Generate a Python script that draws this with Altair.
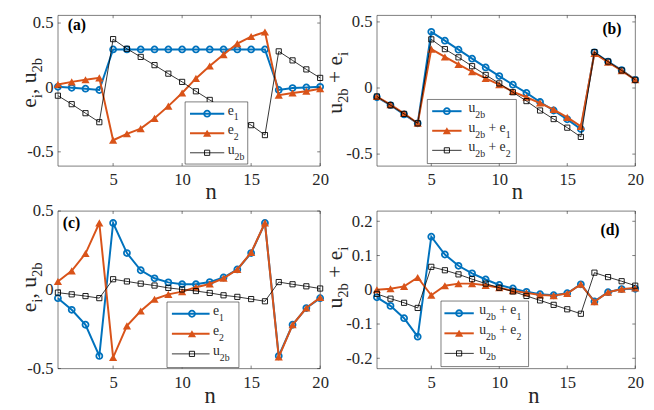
import altair as alt
import pandas as pd

# ---------------- data ----------------
N = list(range(1, 21))

A_E1 = [0.005, -0.003, -0.01, -0.02, 0.295, 0.295, 0.295, 0.295, 0.295, 0.295,
        0.295, 0.295, 0.295, 0.295, 0.295, 0.295, -0.02, -0.005, 0.0, 0.005]
A_E2 = [0.023, 0.043, 0.06, 0.074, -0.41, -0.36, -0.32, -0.24, -0.145, -0.043,
        0.07, 0.166, 0.255, 0.34, 0.395, 0.43, -0.06, -0.043, -0.03, -0.01]
A_U2B = [-0.064, -0.13, -0.2, -0.27, 0.375, 0.30, 0.237, 0.173, 0.107, 0.043,
         -0.03, -0.097, -0.163, -0.23, -0.293, -0.37, 0.28, 0.21, 0.14, 0.074]

B_U2B = [-0.07, -0.13, -0.2, -0.267, 0.425, 0.358, 0.29, 0.222, 0.156, 0.09,
         0.025, -0.037, -0.106, -0.17, -0.237, -0.31, 0.27, 0.2, 0.136, 0.062]
B_U2B_E1 = [-0.064, -0.126, -0.193, -0.267, 0.294, 0.235, 0.178, 0.123, 0.072, 0.025,
            -0.027, -0.07, -0.114, -0.163, -0.222, -0.29, 0.262, 0.195, 0.131, 0.062]
B_U2B_E2 = [-0.064, -0.13, -0.196, -0.267, 0.368, 0.294, 0.232, 0.165, 0.099, 0.035,
            -0.032, -0.099, -0.17, -0.235, -0.3, -0.37, 0.272, 0.2, 0.133, 0.062]

C_E1 = [-0.053, -0.127, -0.222, -0.42, 0.424, 0.233, 0.124, 0.073, 0.047, 0.035,
        0.035, 0.049, 0.078, 0.129, 0.233, 0.424, -0.42, -0.222, -0.116, -0.053]
C_E2 = [0.053, 0.12, 0.23, 0.424, -0.43, -0.229, -0.135, -0.06, -0.029, -0.012,
        0.016, 0.037, 0.073, 0.129, 0.237, 0.424, -0.427, -0.222, -0.116, -0.049]
C_U2B = [-0.018, -0.029, -0.04, -0.053, 0.067, 0.053, 0.039, 0.027, 0.012, 0.002,
         -0.008, -0.02, -0.035, -0.045, -0.059, -0.073, 0.049, 0.035, 0.022, 0.008]

D_U2B_E1 = [-0.022, -0.047, -0.083, -0.137, 0.155, 0.103, 0.07, 0.048, 0.03, 0.014,
            0.004, -0.006, -0.013, -0.016, -0.01, 0.016, -0.034, -0.007, 0.002, 0.003]
D_U2B_E2 = [0.0, 0.003, 0.01, 0.036, -0.016, 0.012, 0.018, 0.018, 0.013, 0.006,
            -0.003, -0.009, -0.015, -0.017, -0.011, 0.016, -0.035, -0.007, 0.002, 0.005]
D_U2B = [-0.012, -0.026, -0.038, -0.053, 0.067, 0.057, 0.045, 0.031, 0.018, 0.006,
         -0.005, -0.018, -0.031, -0.044, -0.057, -0.07, 0.05, 0.037, 0.025, 0.012]

X_TICKS = [5, 10, 15, 20]
Y_TICKS_ABC = [-0.5, 0, 0.5]
Y_TICKS_D = [-0.2, -0.1, 0, 0.1, 0.2]

# labels as (text, is_subscript) runs
LBL_E1 = [("e", 0), ("1", 1)]
LBL_E2 = [("e", 0), ("2", 1)]
LBL_U2B = [("u", 0), ("2b", 1)]
LBL_U2B_E1 = [("u", 0), ("2b", 1), (" + e", 0), ("1", 1)]
LBL_U2B_E2 = [("u", 0), ("2b", 1), (" + e", 0), ("2", 1)]
TITLE_A = [("e", 0), ("i", 1), (", u", 0), ("2b", 1)]
TITLE_B = [("u", 0), ("2b", 1), (" + e", 0), ("i", 1)]

# ---------------- styles ----------------
FONT = "Liberation Serif, Tinos, Times New Roman, Times, Nimbus Roman, DejaVu Serif, serif"
TXT = "#262626"
AX = "#262626"
BLUE = "#0072BD"
ORANGE = "#D95319"
STYLE = {
    "blue": dict(color=BLUE, lw=2.0, shape="circle", filled=False, size=38, sw=1.8),
    "orange": dict(color=ORANGE, lw=2.0, shape="triangle-up", filled=True, size=70, sw=1.0),
    "black": dict(color="#000000", lw=0.8, shape="square", filled=False, size=28, sw=0.9),
}
EM = {"e": 0.444, "i": 0.278, ",": 0.25, " ": 0.25, "u": 0.5, "2": 0.5, "b": 0.5,
      "+": 0.564, "1": 0.5}
H_TOP = 154
H_BOT = 161
TICK = 3
YT_MAIN, YT_SUB, YT_SHIFT = 22, 15, 6
ANCHOR_X = -50    # invisible left anchor so the layout does not depend on text estimates


def text_runs(segs, main, sub):
    out, cur = [], 0.0
    for txt, is_sub in segs:
        size = sub if is_sub else main
        lead = len(txt) - len(txt.lstrip(" "))
        cur += lead * EM[" "] * size
        core = txt.strip(" ")
        out.append((core, cur, is_sub, size))
        cur += sum(EM.get(c, 0.5) for c in core) * size
        trail = len(txt) - len(txt.rstrip(" "))
        cur += trail * EM[" "] * size
    return out, cur


def make_x(field, title_x, title_y):
    return alt.X(f"{field}:Q",
                 scale=alt.Scale(domain=[1, 20], nice=False, zero=False),
                 axis=alt.Axis(values=X_TICKS, title="n", titleX=title_x, titleY=title_y,
                               titleBaseline="alphabetic", titleAlign="center",
                               titleFont=FONT, titleFontSize=23, titleFontWeight="normal",
                               titleColor=TXT, domain=False, grid=False, ticks=False,
                               tickSize=0, labelFont=FONT, labelFontSize=17,
                               labelColor=TXT, labelPadding=6, labelFlush=False,
                               labelOverlap=False, format="d"))


def make_y(field, ydom, yticks):
    return alt.Y(f"{field}:Q",
                 scale=alt.Scale(domain=ydom, nice=False, zero=False),
                 axis=alt.Axis(values=yticks, title=None, domain=False, grid=False,
                               ticks=False, tickSize=0, labelFont=FONT, labelFontSize=17,
                               labelColor=TXT, labelPadding=5, labelFlush=False,
                               labelOverlap=False, format=".1~f",
                               labelExpr="replace(datum.label, '\u2212', '-')"))


def panel(series, ydom, yticks, W, H, title_x, title_y, plabel, plabel_pos, plabel_align,
          legend, ytitle, ytitle_x, ytitle_c):
    layers = []
    for vals, key in series:
        st = STYLE[key]
        df = pd.DataFrame({"n": N, "v": vals})
        base = alt.Chart(df)
        layers.append(base.mark_line(color=st["color"], strokeWidth=st["lw"]).encode(
            x=make_x("n", title_x, title_y), y=make_y("v", ydom, yticks)))
        layers.append(base.mark_point(shape=st["shape"], filled=st["filled"], color=st["color"],
                                      size=st["size"], strokeWidth=st["sw"], opacity=1).encode(
            x=make_x("n", title_x, title_y), y=make_y("v", ydom, yticks)))
    # inward ticks on all four sides
    dfx = pd.DataFrame({"t": X_TICKS})
    dfy = pd.DataFrame({"t": yticks})
    layers.append(alt.Chart(dfx).mark_rule(color=AX, strokeWidth=0.6).encode(
        x=make_x("t", title_x, title_y), y=alt.value(H), y2=alt.value(H - TICK)))
    layers.append(alt.Chart(dfx).mark_rule(color=AX, strokeWidth=0.6).encode(
        x=make_x("t", title_x, title_y), y=alt.value(0), y2=alt.value(TICK)))
    layers.append(alt.Chart(dfy).mark_rule(color=AX, strokeWidth=0.6).encode(
        y=make_y("t", ydom, yticks), x=alt.value(0), x2=alt.value(TICK)))
    layers.append(alt.Chart(dfy).mark_rule(color=AX, strokeWidth=0.6).encode(
        y=make_y("t", ydom, yticks), x=alt.value(W), x2=alt.value(W - TICK)))

    one = alt.Data(values=[{"k": 0}])
    # invisible anchor fixing the left extent of the panel
    layers.append(alt.Chart(one).mark_rule(color="white", strokeWidth=0.1, opacity=0).encode(
        x=alt.value(ANCHOR_X), y=alt.value(H / 2), y2=alt.value(H / 2 + 1)))
    # legend box
    bx0, bx1, by0, by1 = legend["box"]
    layers.append(alt.Chart(one).mark_rect(fill="white", stroke=AX, strokeWidth=0.6).encode(
        x=alt.value(bx0), x2=alt.value(bx1), y=alt.value(by0), y2=alt.value(by1)))
    lx0, lx1 = legend["line"]
    for (segs, key), ry in zip(legend["entries"], legend["rows"]):
        st = STYLE[key]
        layers.append(alt.Chart(one).mark_rule(color=st["color"], strokeWidth=st["lw"]).encode(
            x=alt.value(lx0), x2=alt.value(lx1), y=alt.value(ry)))
        layers.append(alt.Chart(one).mark_point(shape=st["shape"], filled=st["filled"],
                                                color=st["color"], size=st["size"],
                                                strokeWidth=st["sw"], opacity=1).encode(
            x=alt.value(legend["mx"]), y=alt.value(ry)))
        runs, _ = text_runs(segs, 14, 10)
        for core, off, is_sub, size in runs:
            layers.append(alt.Chart(one).mark_text(text=core, font=FONT, fontSize=size,
                                                   align="left", baseline="alphabetic",
                                                   color=TXT).encode(
                x=alt.value(legend["tx"] + off), y=alt.value(ry + (7 if is_sub else 1))))
    # panel label
    layers.append(alt.Chart(one).mark_text(text=plabel, font=FONT, fontSize=16,
                                           fontWeight="bold", align=plabel_align,
                                           baseline="middle", color="#000000").encode(
        x=alt.value(plabel_pos[0]), y=alt.value(plabel_pos[1])))
    # rotated y title with subscripts
    runs, total = text_runs(ytitle, YT_MAIN, YT_SUB)
    y0 = ytitle_c + total / 2
    for core, off, is_sub, size in runs:
        layers.append(alt.Chart(one).mark_text(text=core, font=FONT, fontSize=size, angle=270,
                                               align="left", baseline="alphabetic",
                                               color=TXT).encode(
            x=alt.value(ytitle_x + (YT_SHIFT if is_sub else 0)), y=alt.value(y0 - off)))
    return alt.layer(*layers).properties(width=W, height=H)


pa = panel([(A_E1, "blue"), (A_E2, "orange"), (A_U2B, "black")], [-0.61, 0.56], Y_TICKS_ABC,
           268, H_TOP, 156, 33, "(a)", (10, 10), "left",
           dict(box=(130, 194, 88.5, H_TOP - 2), rows=[100.5, 120.5, 140.5], line=(135, 170),
                mx=152.5, tx=173.5,
                entries=[(LBL_E1, "blue"), (LBL_E2, "orange"), (LBL_U2B, "black")]),
           TITLE_A, -22, 69)
pb = panel([(B_U2B, "blue"), (B_U2B_E1, "orange"), (B_U2B_E2, "black")], [-0.59, 0.55],
           Y_TICKS_ABC, 264, H_TOP, 143, 33, "(b)", (250, 14), "right",
           dict(box=(51.5, 142.5, 86, H_TOP - 2.5), rows=[98, 118, 138], line=(56.5, 86.5),
                mx=71.5, tx=93.5,
                entries=[(LBL_U2B, "blue"), (LBL_U2B_E1, "orange"), (LBL_U2B_E2, "black")]),
           TITLE_B, -36, 69)
pc = panel([(C_E1, "blue"), (C_E2, "orange"), (C_U2B, "black")], [-0.5, 0.5], Y_TICKS_ABC,
           268, H_BOT, 155, 35, "(c)", (5, 12), "left",
           dict(box=(111.5, 185, 93, H_BOT - 1), rows=[105, 125.5, 146], line=(116.5, 155),
                mx=137, tx=158.5,
                entries=[(LBL_E1, "blue"), (LBL_E2, "orange"), (LBL_U2B, "black")]),
           TITLE_A, -22, 78)
pd_ = panel([(D_U2B_E1, "blue"), (D_U2B_E2, "orange"), (D_U2B, "black")], [-0.23, 0.23],
            Y_TICKS_D, 264, H_BOT, 160, 35, "(d)", (248, 20), "right",
            dict(box=(65.5, 155, 92, H_BOT - 2), rows=[104.5, 125, 145.5], line=(69, 99),
                 mx=84, tx=104.5,
                 entries=[(LBL_U2B_E1, "blue"), (LBL_U2B_E2, "orange"), (LBL_U2B, "black")]),
            TITLE_B, -36, 68)

chart = alt.concat(pa, pb, pc, pd_, columns=2, spacing={"row": 46, "column": 58},
                   bounds="flush", align="each").properties(
    padding={"left": 0, "top": 0, "right": 2, "bottom": 2}
).configure_view(stroke=AX, strokeWidth=0.6)

chart.save("out.html", embed_options={"renderer": "svg", "actions": False})
